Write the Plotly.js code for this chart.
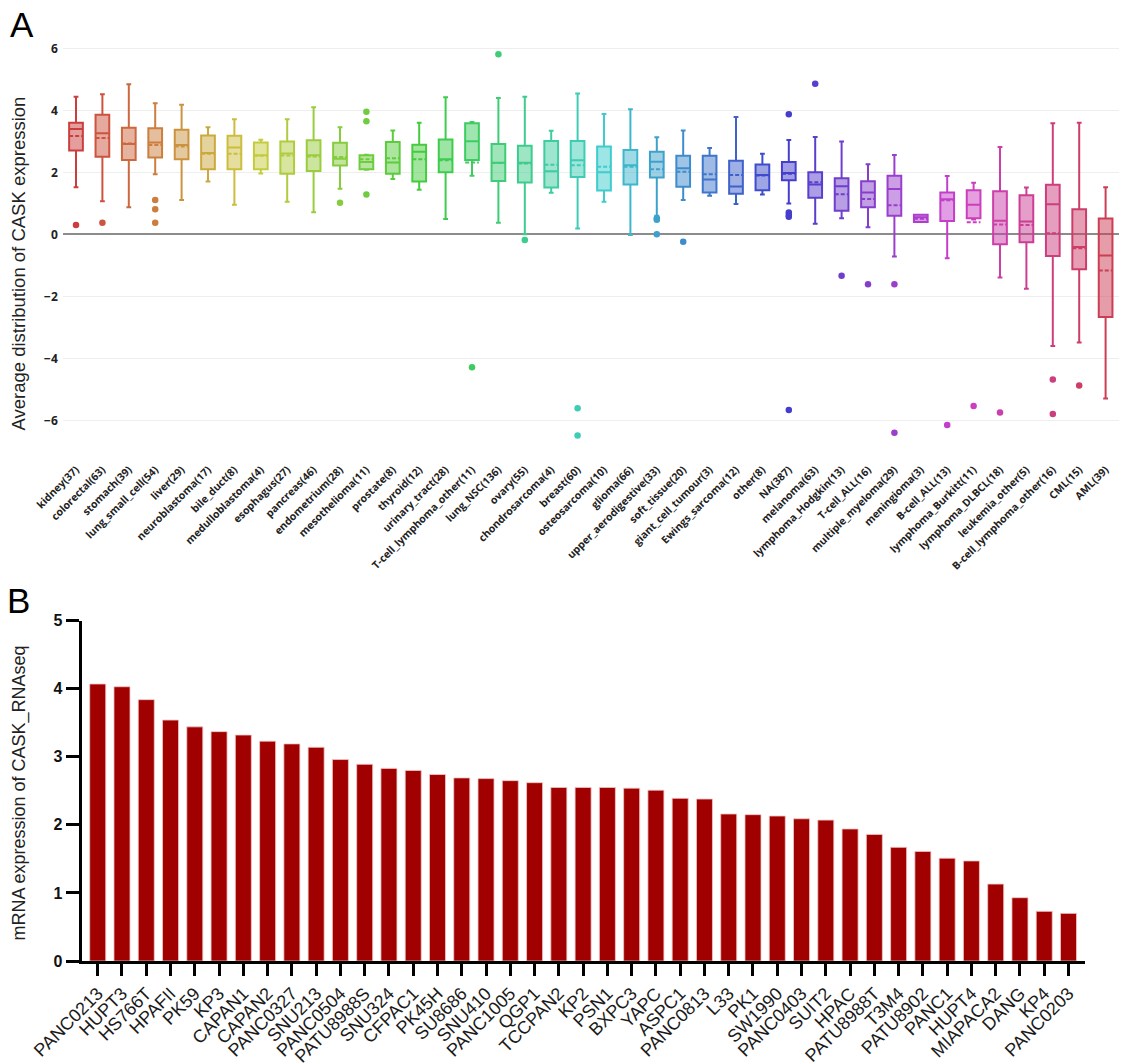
<!DOCTYPE html>
<html>
<head>
<meta charset="utf-8">
<script src="https://cdn.plot.ly/plotly-3.0.1.min.js"></script>
<style>html,body{margin:0;padding:0;background:#fff;}#chart{width:1121px;height:1064px;}</style>
</head>
<body>
<div id="chart"></div>
<script>
// ---------- Panel A: CASK expression by lineage (box plots) ----------
const lineages = ['kidney(37)','colorectal(63)','stomach(39)','lung_small_cell(54)','liver(29)','neuroblastoma(17)','bile_duct(8)','medulloblastoma(4)','esophagus(27)','pancreas(46)','endometrium(28)','mesothelioma(11)','prostate(8)','thyroid(12)','urinary_tract(28)','T-cell_lymphoma_other(11)','lung_NSC(136)','ovary(55)','chondrosarcoma(4)','breast(60)','osteosarcoma(10)','glioma(66)','upper_aerodigestive(33)','soft_tissue(20)','giant_cell_tumour(3)','Ewings_sarcoma(12)','other(8)','NA(387)','melanoma(63)','lymphoma_Hodgkin(13)','T-cell_ALL(16)','multiple_myeloma(29)','meningioma(3)','B-cell_ALL(13)','lymphoma_Burkitt(11)','lymphoma_DLBCL(18)','leukemia_other(5)','B-cell_lymphoma_other(16)','CML(15)','AML(39)'];
const lowerWhisker = [1.52,1.07,0.87,1.94,1.11,1.70,0.95,1.96,1.05,0.71,1.47,2.08,1.78,1.44,0.49,1.89,0.37,0.00,1.34,0.19,1.05,-0.02,0.60,1.11,1.24,0.98,1.28,0.99,0.34,0.52,0.23,-0.72,0.40,-0.77,0.48,-1.39,-1.76,-3.60,-3.49,-5.30];
const q1Vals = [2.70,2.50,2.40,2.48,2.42,2.10,2.10,2.10,1.95,2.04,2.22,2.10,1.95,1.70,2.00,2.40,1.72,1.67,1.51,1.85,1.41,1.61,1.83,1.53,1.35,1.31,1.42,1.74,1.18,0.76,0.87,0.60,0.40,0.43,0.52,-0.32,-0.26,-0.70,-1.13,-2.67];
const medianVals = [3.40,3.26,2.91,2.96,2.88,2.62,2.80,2.55,2.61,2.55,2.44,2.33,2.32,2.66,2.42,3.00,2.31,2.31,2.03,2.39,2.00,2.23,2.34,2.13,1.77,1.54,1.91,1.98,1.61,1.55,1.35,1.46,0.55,1.13,0.95,0.44,0.41,0.97,-0.41,-0.68];
const meanVals = [3.17,3.11,2.93,2.88,2.83,2.60,2.60,2.53,2.54,2.51,2.49,2.42,2.45,2.42,2.39,2.32,2.30,2.28,2.24,2.23,2.18,2.18,2.10,2.02,1.94,1.91,1.90,1.95,1.68,1.29,1.14,0.94,0.50,1.10,0.39,0.32,0.30,0.03,-0.45,-1.17];
const q3Vals = [3.60,3.86,3.44,3.42,3.37,3.19,3.18,2.96,2.99,3.03,2.95,2.55,2.98,2.89,3.06,3.58,2.91,2.86,3.01,3.01,2.83,2.72,2.66,2.53,2.53,2.37,2.25,2.33,2.00,1.81,1.71,1.89,0.63,1.35,1.42,1.39,1.26,1.60,0.81,0.51];
const upperWhisker = [4.44,4.52,4.84,4.23,4.18,3.45,3.71,3.05,3.71,4.10,3.45,2.57,3.35,3.60,4.42,3.62,4.40,4.44,3.34,4.54,3.88,4.03,3.13,3.35,2.78,3.78,2.60,3.04,3.14,2.99,2.26,2.56,0.63,1.88,1.66,2.82,1.51,3.58,3.60,1.52];
const outlierVals = [[0.30],[0.37],[],[1.11,0.81,0.37],[],[],[],[],[],[],[1.02],[3.95,3.65,1.28],[],[],[],[-4.29],[5.81],[-0.18],[],[-5.61,-6.49],[],[],[0.52,0.47,0.00],[-0.24],[],[],[],[3.87,0.70,0.62,0.57,-5.67],[4.86],[-1.34],[-1.61],[-1.61,-6.40],[],[-6.15],[-5.54],[-5.75],[],[-4.68,-5.80],[-4.88],[]];

// ---------- Panel B: CASK_RNAseq in pancreatic cell lines (bars) ----------
const cellLines = ['PANC0213','HUPT3','HS766T','HPAFII','PK59','KP3','CAPAN1','CAPAN2','PANC0327','SNU213','PANC0504','PATU8988S','SNU324','CFPAC1','PK45H','SU8686','SNU410','PANC1005','QGP1','TCCPAN2','KP2','PSN1','BXPC3','YAPC','ASPC1','PANC0813','L33','PK1','SW1990','PANC0403','SUIT2','HPAC','PATU8988T','T3M4','PATU8902','PANC1','HUPT4','MIAPACA2','DANG','KP4','PANC0203'];
const rnaseqVals = [4.07,4.03,3.84,3.54,3.44,3.37,3.32,3.23,3.19,3.14,2.96,2.89,2.83,2.80,2.74,2.69,2.68,2.65,2.62,2.55,2.55,2.55,2.54,2.51,2.39,2.38,2.16,2.15,2.13,2.09,2.07,1.94,1.86,1.67,1.61,1.51,1.47,1.13,0.93,0.73,0.70];

const W = 1121, H = 1064;
const px = v => v / W;
const py = v => 1 - v / H;

const traces = [];
lineages.forEach((cat, i) => {
  const col = 'hsl(' + (i * 360 / lineages.length) + ',58%,52%)';
  traces.push({
    type: 'box', xaxis: 'x', yaxis: 'y',
    x: [cat],
    q1: [q1Vals[i]], median: [medianVals[i]], q3: [q3Vals[i]],
    lowerfence: [lowerWhisker[i]], upperfence: [upperWhisker[i]],
    mean: [meanVals[i]], boxmean: true, boxpoints: false,
    width: 0.52, whiskerwidth: 0.35,
    line: {color: col, width: 2},
    marker: {color: col},
    hoverinfo: 'skip', showlegend: false
  });
  if (outlierVals[i].length) {
    traces.push({
      type: 'scatter', mode: 'markers', xaxis: 'x', yaxis: 'y',
      x: outlierVals[i].map(() => cat), y: outlierVals[i],
      marker: {color: col, size: 6.5},
      hoverinfo: 'skip', showlegend: false
    });
  }
});

traces.push({
  type: 'bar', xaxis: 'x2', yaxis: 'y2',
  x: cellLines, y: rnaseqVals,
  marker: {color: '#a00000', line: {color: '#f2c6c6', width: 0.8}},
  showlegend: false, hoverinfo: 'skip'
});

const layout = {
  width: W, height: H,
  margin: {l: 0, r: 0, t: 0, b: 0},
  paper_bgcolor: '#ffffff', plot_bgcolor: '#ffffff',
  showlegend: false,
  boxmode: 'overlay',
  bargap: 0.34,
  xaxis: {
    domain: [px(62.8), px(1118.8)], anchor: 'y',
    type: 'category', categoryorder: 'array', categoryarray: lineages,
    range: [-0.5, 39.5],
    tickangle: -45, showgrid: false, showline: false, zeroline: false, ticks: '',
    tickfont: {family: 'Open Sans', size: 10.5, color: '#222222', weight: 'bold'}
  },
  yaxis: {
    domain: [py(460.6), py(26.6)], anchor: 'x',
    range: [-7.3, 6.7], tickvals: [-6, -4, -2, 0, 2, 4, 6],
    showgrid: true, gridcolor: '#eeeeee', gridwidth: 1,
    zeroline: true, zerolinecolor: '#8c8c8c', zerolinewidth: 2,
    showline: false, ticks: '', ticklabelstandoff: 4,
    tickfont: {family: 'Open Sans', size: 12, color: '#222222', weight: 'bold'}
  },
  xaxis2: {
    domain: [px(81.7), px(1085)], anchor: 'y2',
    type: 'category', categoryorder: 'array', categoryarray: cellLines,
    range: [-0.66, 40.68],
    tickangle: -45, showgrid: false, zeroline: false,
    showline: true, linewidth: 3, linecolor: '#000000',
    ticks: 'outside', ticklen: 12, tickwidth: 3, tickcolor: '#000000',
    tickfont: {family: 'Liberation Sans, Arial, sans-serif', size: 18, color: '#1a1a1a'}
  },
  yaxis2: {
    domain: [py(961), py(620.7)], anchor: 'x2',
    range: [0, 5], dtick: 1, showgrid: false, zeroline: false,
    showline: true, linewidth: 3, linecolor: '#000000',
    ticks: 'outside', ticklen: 13, tickwidth: 3, tickcolor: '#000000',
    tickfont: {family: 'Liberation Sans, Arial, sans-serif', size: 16, color: '#111111', weight: 'bold'}
  },
  annotations: [
    {text: 'A', xref: 'paper', yref: 'paper', x: px(21.5), y: py(24.5), xanchor: 'center', yanchor: 'middle', showarrow: false,
     font: {family: 'Liberation Sans, Arial, sans-serif', size: 35, color: '#000000'}},
    {text: 'B', xref: 'paper', yref: 'paper', x: px(18), y: py(600), xanchor: 'center', yanchor: 'middle', showarrow: false,
     font: {family: 'Liberation Sans, Arial, sans-serif', size: 35, color: '#000000'}},
    {text: 'Average distribution of CASK expression', xref: 'paper', yref: 'paper', x: px(17.5), y: py(264), textangle: -90,
     xanchor: 'center', yanchor: 'middle', showarrow: false,
     font: {family: 'Liberation Sans, Arial, sans-serif', size: 18.5, color: '#222222'}},
    {text: 'mRNA expression of CASK_RNAseq', xref: 'paper', yref: 'paper', x: px(18.5), y: py(793), textangle: -90,
     xanchor: 'center', yanchor: 'middle', showarrow: false,
     font: {family: 'Liberation Sans, Arial, sans-serif', size: 18, color: '#222222'}}
  ]
};

Plotly.newPlot('chart', traces, layout, {displayModeBar: false, staticPlot: true});
</script>
</body>
</html>
